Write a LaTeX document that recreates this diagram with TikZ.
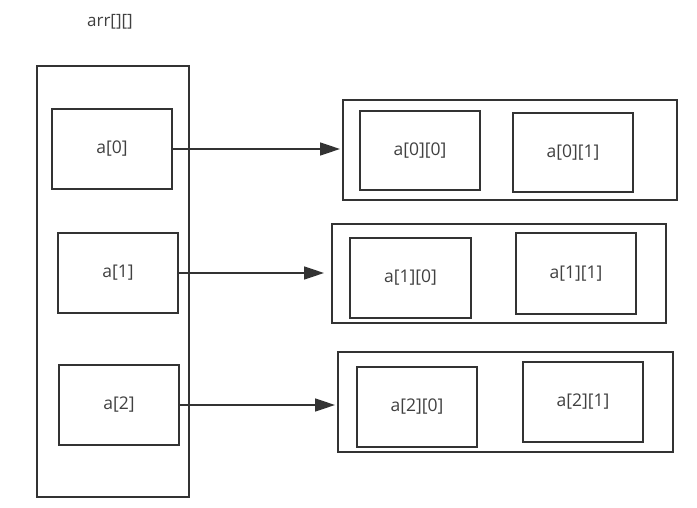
\documentclass[tikz,border=0pt]{standalone}
\usepackage{fontspec}
\setmainfont{Open Sans}
\usetikzlibrary{arrows.meta}
\definecolor{ln}{HTML}{333333}
\definecolor{tx}{HTML}{404040}
\newcommand{\celltext}[1]{\raisebox{-2.5pt}{#1}}
\begin{document}
\begin{tikzpicture}[x=1pt,y=-1pt,
  cell/.style={draw=ln,line width=1.6pt,minimum width=120pt,minimum height=80pt,inner sep=0pt,text=tx,font=\fontsize{17.5pt}{20pt}\selectfont},
  frame/.style={draw=ln,line width=1.6pt,inner sep=0pt},
  arr/.style={draw=ln,line width=1.6pt,-{Triangle[length=20pt,width=13pt]}}]
\useasboundingbox (0,0) rectangle (697,508);
\node[text=tx,font=\fontsize{17pt}{20pt}\selectfont] (title) at (110,22) {arr[][]};
\node[frame,minimum width=152pt,minimum height=431pt] (L) at (113,281.5) {};
\node[cell] (a0) at (112,149) {\celltext{a[0]}};
\node[cell] (a1) at (118,273) {\celltext{a[1]}};
\node[cell] (a2) at (119,405) {\celltext{a[2]}};
\node[frame,minimum width=334pt,minimum height=100pt] (R0) at (510,150) {};
\node[cell,minimum height=79pt] (a00) at (420,150.5) {\celltext{a[0][0]}};
\node[cell,minimum height=79pt] (a01) at (573,152.5) {\celltext{a[0][1]}};
\node[frame,minimum width=334pt,minimum height=99pt] (R1) at (499,273.5) {};
\node[cell,minimum width=121pt] (a10) at (410.5,278) {\celltext{a[1][0]}};
\node[cell,minimum height=81pt] (a11) at (576,273.5) {\celltext{a[1][1]}};
\node[frame,minimum width=335pt,minimum height=100pt] (R2) at (505.5,402) {};
\node[cell] (a20) at (417,407) {\celltext{a[2][0]}};
\node[cell] (a21) at (583,402) {\celltext{a[2][1]}};
\coordinate (t0) at (340,149);
\coordinate (t1) at (324,273);
\coordinate (t2) at (335,405);
\draw[arr] (a0.east) -- (t0);
\draw[arr] (a1.east) -- (t1);
\draw[arr] (a2.east) -- (t2);
\end{tikzpicture}
\end{document}
